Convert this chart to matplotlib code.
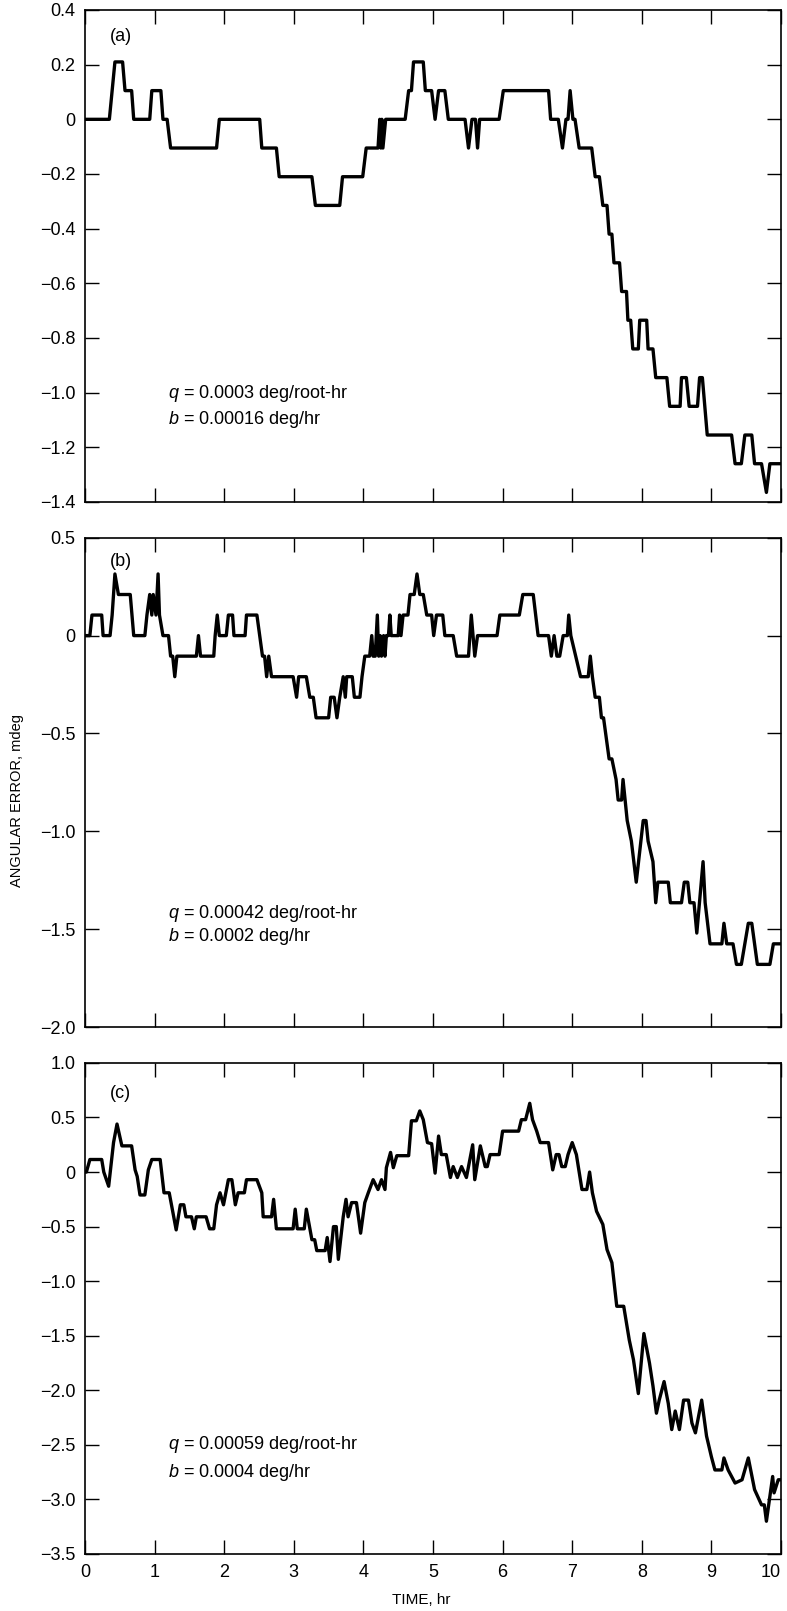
import numpy as np
import matplotlib
matplotlib.use("Agg")
import matplotlib.pyplot as plt
from matplotlib.ticker import FuncFormatter

plt.rcParams['font.family'] = ['Liberation Sans', 'DejaVu Sans']
plt.rcParams['mathtext.fontset'] = 'custom'
plt.rcParams['mathtext.it'] = 'Liberation Sans:italic'
plt.rcParams['mathtext.rm'] = 'Liberation Sans'

# ---- data (time in hr, error in mdeg) ----
time_a = [0.00, 0.35, 0.39, 0.43, 0.54, 0.575, 0.67, 0.70, 0.93, 0.96, 1.09, 1.12,
          1.18, 1.23, 1.89, 1.93, 2.51, 2.54, 2.75, 2.79, 3.26, 3.31, 3.66, 3.70,
          3.99, 4.04, 4.21, 4.235, 4.25, 4.265, 4.28, 4.32, 4.60, 4.65, 4.69, 4.72,
          4.86, 4.89, 4.98, 5.03, 5.08, 5.17, 5.22, 5.46, 5.51, 5.56, 5.61, 5.64,
          5.67, 5.95, 6.01, 6.66, 6.69, 6.80, 6.86, 6.91, 6.94, 6.97, 7.01, 7.04,
          7.10, 7.28, 7.33, 7.39, 7.44, 7.50, 7.53, 7.57, 7.60, 7.68, 7.71, 7.78,
          7.80, 7.84, 7.87, 7.95, 7.97, 8.07, 8.09, 8.16, 8.20, 8.36, 8.40, 8.55,
          8.57, 8.64, 8.68, 8.80, 8.83, 8.87, 8.94, 9.29, 9.34, 9.43, 9.48, 9.58,
          9.62, 9.72, 9.79, 9.84, 10.0]
err_a = [0, 0, 0.105, 0.21, 0.21, 0.105, 0.105, 0, 0, 0.105, 0.105, 0,
         0, -0.105, -0.105, 0, 0, -0.105, -0.105, -0.21, -0.21, -0.315, -0.315, -0.21,
         -0.21, -0.105, -0.105, 0, -0.105, 0, -0.105, 0, 0, 0.105, 0.105, 0.21,
         0.21, 0.105, 0.105, 0, 0.105, 0.105, 0, 0, -0.105, 0, 0, -0.105,
         0, 0, 0.105, 0.105, 0, 0, -0.105, 0, 0, 0.105, 0, 0,
         -0.105, -0.105, -0.21, -0.21, -0.315, -0.315, -0.42, -0.42, -0.525, -0.525, -0.63, -0.63,
         -0.735, -0.735, -0.84, -0.84, -0.735, -0.735, -0.84, -0.84, -0.945, -0.945, -1.05, -1.05,
         -0.945, -0.945, -1.05, -1.05, -0.945, -0.945, -1.155, -1.155, -1.26, -1.26, -1.155, -1.155,
         -1.26, -1.26, -1.365, -1.26, -1.26]

time_b = [0.00, 0.07, 0.10, 0.24, 0.26, 0.36, 0.39, 0.41, 0.43, 0.48, 0.65, 0.70,
          0.86, 0.89, 0.93, 0.96, 0.98, 1.02, 1.05, 1.07, 1.12, 1.20, 1.23, 1.26,
          1.29, 1.32, 1.60, 1.63, 1.66, 1.85, 1.87, 1.90, 1.93, 2.03, 2.06, 2.12,
          2.14, 2.30, 2.32, 2.47, 2.51, 2.55, 2.58, 2.61, 2.64, 2.68, 2.99, 3.04,
          3.07, 3.18, 3.23, 3.28, 3.32, 3.50, 3.53, 3.58, 3.62, 3.66, 3.71, 3.74,
          3.76, 3.84, 3.87, 3.95, 3.98, 4.02, 4.09, 4.12, 4.14, 4.17, 4.20, 4.22,
          4.24, 4.26, 4.29, 4.31, 4.33, 4.36, 4.38, 4.40, 4.50, 4.52, 4.54, 4.57,
          4.64, 4.67, 4.73, 4.77, 4.81, 4.86, 4.91, 4.98, 5.01, 5.05, 5.14, 5.17,
          5.29, 5.34, 5.51, 5.55, 5.60, 5.64, 5.92, 5.96, 6.24, 6.29, 6.44, 6.51,
          6.66, 6.70, 6.74, 6.78, 6.82, 6.87, 6.93, 6.95, 6.98, 7.05, 7.12, 7.23,
          7.26, 7.29, 7.33, 7.39, 7.42, 7.45, 7.49, 7.53, 7.57, 7.63, 7.66, 7.71,
          7.73, 7.79, 7.85, 7.92, 8.02, 8.06, 8.09, 8.16, 8.20, 8.23, 8.38, 8.41,
          8.57, 8.61, 8.66, 8.69, 8.75, 8.79, 8.88, 8.91, 8.98, 9.15, 9.18, 9.22,
          9.31, 9.36, 9.43, 9.48, 9.53, 9.58, 9.62, 9.66, 9.84, 9.89, 10.0]
err_b = [0, 0, 0.105, 0.105, 0, 0, 0.105, 0.21, 0.315, 0.21, 0.21, 0,
         0, 0.105, 0.21, 0.105, 0.21, 0.105, 0.315, 0.105, 0, 0, -0.105, -0.105,
         -0.21, -0.105, -0.105, 0, -0.105, -0.105, 0, 0.105, 0, 0, 0.105, 0.105,
         0, 0, 0.105, 0.105, 0, -0.105, -0.105, -0.21, -0.105, -0.21, -0.21, -0.315,
         -0.21, -0.21, -0.315, -0.315, -0.42, -0.42, -0.315, -0.315, -0.42, -0.315, -0.21, -0.315,
         -0.21, -0.21, -0.315, -0.315, -0.21, -0.105, -0.105, 0, -0.105, -0.105, 0.105, -0.105,
         0, -0.105, 0, -0.105, 0, 0, 0.105, 0, 0, 0.105, 0, 0.105,
         0.105, 0.21, 0.21, 0.315, 0.21, 0.21, 0.105, 0.105, 0, 0.105, 0.105, 0,
         0, -0.105, -0.105, 0.105, -0.105, 0, 0, 0.105, 0.105, 0.21, 0.21, 0,
         0, -0.105, 0, -0.105, -0.105, 0, 0, 0.105, 0, -0.105, -0.21, -0.21,
         -0.105, -0.21, -0.315, -0.315, -0.42, -0.42, -0.525, -0.63, -0.63, -0.735, -0.84, -0.84,
         -0.735, -0.945, -1.05, -1.26, -0.945, -0.945, -1.05, -1.155, -1.365, -1.26, -1.26, -1.365,
         -1.365, -1.26, -1.26, -1.365, -1.365, -1.52, -1.155, -1.365, -1.575, -1.575, -1.47, -1.575,
         -1.575, -1.68, -1.68, -1.575, -1.47, -1.47, -1.575, -1.68, -1.68, -1.575, -1.575]

time_c = [0.00, 0.02, 0.07, 0.24, 0.27, 0.34, 0.41, 0.46, 0.53, 0.67, 0.72, 0.75,
          0.79, 0.86, 0.91, 0.96, 1.08, 1.135, 1.21, 1.31, 1.37, 1.42, 1.45, 1.53,
          1.57, 1.60, 1.74, 1.79, 1.85, 1.89, 1.94, 1.99, 2.06, 2.11, 2.16, 2.20,
          2.29, 2.32, 2.47, 2.54, 2.56, 2.68, 2.71, 2.75, 2.99, 3.02, 3.05, 3.15,
          3.18, 3.26, 3.30, 3.33, 3.45, 3.48, 3.52, 3.57, 3.61, 3.64, 3.71, 3.75,
          3.78, 3.83, 3.90, 3.96, 4.02, 4.07, 4.14, 4.21, 4.26, 4.31, 4.33, 4.39,
          4.43, 4.48, 4.65, 4.69, 4.76, 4.81, 4.86, 4.92, 4.98, 5.03, 5.08, 5.12,
          5.19, 5.25, 5.29, 5.35, 5.41, 5.48, 5.57, 5.60, 5.68, 5.75, 5.78, 5.82,
          5.95, 6.00, 6.23, 6.27, 6.33, 6.39, 6.43, 6.49, 6.54, 6.66, 6.72, 6.77,
          6.81, 6.85, 6.90, 6.94, 7.00, 7.06, 7.14, 7.21, 7.25, 7.29, 7.35, 7.44,
          7.50, 7.57, 7.64, 7.74, 7.82, 7.88, 7.95, 8.03, 8.11, 8.16, 8.21, 8.25,
          8.32, 8.38, 8.43, 8.48, 8.54, 8.60, 8.67, 8.72, 8.77, 8.86, 8.93, 9.00,
          9.05, 9.15, 9.18, 9.24, 9.34, 9.44, 9.53, 9.62, 9.72, 9.76, 9.79, 9.88,
          9.90, 9.96, 10.0]
err_c = [0, 0, 0.115, 0.115, 0, -0.13, 0.27, 0.44, 0.24, 0.24, 0.02, -0.04,
         -0.21, -0.21, 0.02, 0.115, 0.115, -0.19, -0.19, -0.53, -0.30, -0.30, -0.41, -0.41,
         -0.52, -0.41, -0.41, -0.52, -0.52, -0.30, -0.19, -0.30, -0.07, -0.07, -0.30, -0.19,
         -0.19, -0.07, -0.07, -0.19, -0.41, -0.41, -0.25, -0.52, -0.52, -0.34, -0.52, -0.52,
         -0.34, -0.62, -0.62, -0.72, -0.72, -0.60, -0.82, -0.50, -0.50, -0.80, -0.41, -0.25,
         -0.41, -0.28, -0.28, -0.56, -0.28, -0.19, -0.07, -0.16, -0.07, -0.16, 0.04, 0.18,
         0.04, 0.15, 0.15, 0.47, 0.47, 0.56, 0.48, 0.27, 0.26, -0.01, 0.33, 0.16,
         0.16, -0.05, 0.05, -0.05, 0.05, -0.05, 0.25, -0.07, 0.24, 0.05, 0.05, 0.16,
         0.16, 0.375, 0.375, 0.48, 0.48, 0.63, 0.48, 0.375, 0.27, 0.27, 0.02, 0.16,
         0.16, 0.05, 0.05, 0.16, 0.27, 0.16, -0.16, -0.16, 0.0, -0.19, -0.36, -0.48,
         -0.71, -0.83, -1.23, -1.23, -1.54, -1.72, -2.03, -1.48, -1.75, -1.96, -2.21, -2.09,
         -1.92, -2.12, -2.36, -2.19, -2.36, -2.09, -2.09, -2.30, -2.39, -2.09, -2.42, -2.61,
         -2.73, -2.73, -2.62, -2.73, -2.85, -2.82, -2.62, -2.91, -3.05, -3.05, -3.20, -2.79,
         -2.94, -2.82, -2.82]

panel_tags = ['(a)', '(b)', '(c)']
q_text = ['0.0003', '0.00042', '0.00059']
b_text = ['0.00016', '0.0002', '0.0004']
y_ticks = [np.arange(-1.4, 0.41, 0.2), np.arange(-2.0, 0.51, 0.5), np.arange(-3.5, 1.01, 0.5)]
y_lims = [(-1.4, 0.4), (-2.0, 0.5), (-3.5, 1.0)]
series = [(time_a, err_a), (time_b, err_b), (time_c, err_c)]


def fmt(v, pos):
    if abs(v) < 1e-9:
        return '0'
    return '{:.1f}'.format(v).replace('-', '\u2212')


fig = plt.figure(figsize=(7.87, 16.11), dpi=100)
boxes = [[0.108, 0.6884, 0.8844, 0.3054],
         [0.108, 0.3625, 0.8844, 0.3037],
         [0.108, 0.0354, 0.8844, 0.3048]]
tag_y = [0.947, 0.951, 0.937]
q_y = [0.220, 0.232, 0.222]
b_y = [0.168, 0.184, 0.165]

for i in range(3):
    ax = fig.add_axes(boxes[i])
    t, e = series[i]
    assert len(t) == len(e)
    ax.plot(t, e, color='black', lw=2.4, solid_joinstyle='round')
    ax.set_xlim(0, 10)
    ax.set_ylim(*y_lims[i])
    ax.set_xticks(range(0, 11))
    ax.set_yticks(y_ticks[i])
    ax.yaxis.set_major_formatter(FuncFormatter(fmt))
    ax.tick_params(direction='in', length=10, width=1.0, top=True, right=True,
                   labelsize=13, pad=7)
    if i < 2:
        ax.tick_params(labelbottom=False)
    else:
        # keep the "10" inside the figure
        ax.get_xticklabels()[-1].set_horizontalalignment('right')
    for s in ax.spines.values():
        s.set_linewidth(1.2)
    ax.text(0.036, tag_y[i], panel_tags[i], transform=ax.transAxes,
            ha='left', va='center', fontsize=13)
    ax.text(0.119, q_y[i], r'$q$ = ' + q_text[i] + ' deg/root-hr',
            transform=ax.transAxes, ha='left', va='center', fontsize=13)
    ax.text(0.119, b_y[i], r'$b$ = ' + b_text[i] + ' deg/hr',
            transform=ax.transAxes, ha='left', va='center', fontsize=13)

fig.text(0.022, 0.503, 'ANGULAR ERROR, mdeg', rotation=90,
         ha='center', va='center', fontsize=10.5)
fig.text(0.535, 0.0068, 'TIME, hr', ha='center', va='center', fontsize=11)

fig.savefig('out.png', dpi=100)
